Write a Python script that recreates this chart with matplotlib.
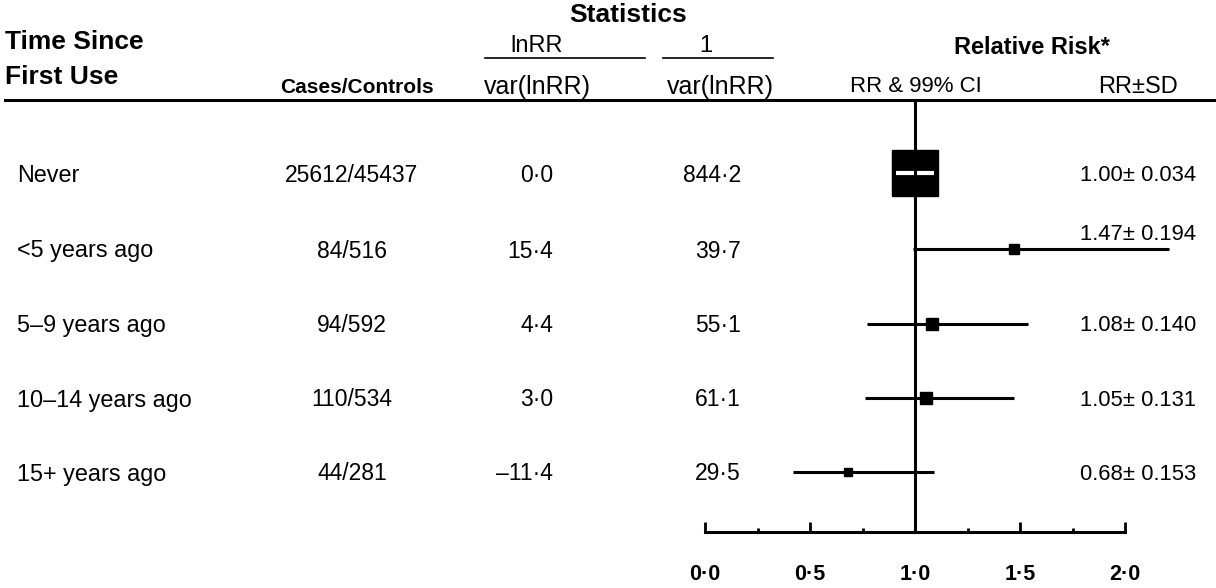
import numpy as np
import matplotlib
matplotlib.use('Agg')
import matplotlib.pyplot as plt
from matplotlib.ticker import MultipleLocator, FixedFormatter, FixedLocator

plt.rcParams['font.family'] = ['Liberation Sans', 'DejaVu Sans']

# data
groups = ['Never', '<5 years ago', '5–9 years ago', '10–14 years ago', '15+ years ago']
cases_controls = ['25612/45437', '84/516', '94/592', '110/534', '44/281']
lnrr_over_var = ['0·0', '15·4', '4·4', '3·0', '–11·4']
inv_var = [844.2, 39.7, 55.1, 61.1, 29.5]
rr = [1.00, 1.47, 1.08, 1.05, 0.68]
sd = [0.034, 0.194, 0.140, 0.131, 0.153]
ci_low = [0.91, 0.99, 0.77, 0.76, 0.42]
ci_high = [1.09, 2.21, 1.54, 1.47, 1.09]
tick_values = [0.0, 0.5, 1.0, 1.5, 2.0]
tick_labels = ['0·0', '0·5', '1·0', '1·5', '2·0']

W, H = 1216, 588
fig = plt.figure(figsize=(W / 100, H / 100), dpi=100)

def px(x, y):
    # pixel position (from top-left) -> figure fraction
    return x / W, 1 - y / H

def ftext(x, y, s, **kw):
    fx, fy = px(x, y)
    fig.text(fx, fy, s, **kw)

row_y = [173, 249, 324, 398, 472]   # pixel rows (from top)

# forest panel: RR 0..2 spans x 705..1125 px, y in pixel units
left, right, top, bottom = 705, 1125, 100, 532
ax = fig.add_axes([left / W, 1 - bottom / H, (right - left) / W, (bottom - top) / H])
ax.set_xlim(0, 2)
ax.set_ylim(bottom, top)
for s in ['top', 'left', 'right']:
    ax.spines[s].set_visible(False)
ax.spines['bottom'].set_linewidth(2.2)
ax.yaxis.set_visible(False)
ax.xaxis.set_major_locator(FixedLocator(tick_values))
ax.xaxis.set_major_formatter(FixedFormatter(tick_labels))
ax.xaxis.set_minor_locator(MultipleLocator(0.25))
ax.tick_params(axis='x', which='major', direction='in', length=7, width=2, pad=23,
               labelsize=15.5)
ax.tick_params(axis='x', which='minor', direction='in', length=3, width=2)
for lab in ax.get_xticklabels():
    lab.set_fontweight('bold')
ax.patch.set_visible(False)

# CI lines and weight boxes
max_w = max(inv_var)
for i in range(len(groups)):
    side_px = 46 * np.sqrt(inv_var[i] / max_w)
    ax.plot(rr[i], row_y[i], marker='s', color='black', markersize=side_px * 0.72,
            zorder=3, clip_on=False)
    if i == 0:
        ax.plot([ci_low[i], ci_high[i]], [row_y[i], row_y[i]], color='white', lw=3,
                solid_capstyle='butt', zorder=4, clip_on=False)
    else:
        ax.plot([ci_low[i], ci_high[i]], [row_y[i], row_y[i]], color='black', lw=2.2,
                solid_capstyle='butt', zorder=2, clip_on=False)
ax.axvline(1.0, color='black', lw=2.2, zorder=5)

# header
fig.add_artist(plt.Line2D([5 / W, 1], [1 - 100 / H] * 2, color='black', lw=2.2))
hb = dict(fontsize=19, fontweight='bold')
ftext(628, 15, 'Statistics', ha='center', va='center', **hb)
ftext(5, 42, 'Time Since', ha='left', va='center', **hb)
ftext(5, 77, 'First Use', ha='left', va='center', **hb)
ftext(1032, 47, 'Relative Risk*', ha='center', va='center', fontsize=17, fontweight='bold')
ftext(357, 88, 'Cases/Controls', ha='center', va='center', fontsize=15, fontweight='bold')
ftext(537, 46, 'lnRR', ha='center', va='center', fontsize=17)
ftext(706, 46, '1', ha='center', va='center', fontsize=17)
fig.add_artist(plt.Line2D([485 / W, 645 / W], [1 - 58 / H] * 2, color='black', lw=1.2))
fig.add_artist(plt.Line2D([663 / W, 773 / W], [1 - 58 / H] * 2, color='black', lw=1.2))
ftext(537, 87, 'var(lnRR)', ha='center', va='center', fontsize=18)
ftext(720, 87, 'var(lnRR)', ha='center', va='center', fontsize=18)
ftext(916, 87, 'RR & 99% CI', ha='center', va='center', fontsize=16)
ftext(1138, 87, 'RR±SD', ha='center', va='center', fontsize=17)

# table rows
for i in range(len(groups)):
    y = row_y[i] + 2
    ftext(17, y, groups[i], ha='left', va='center', fontsize=16.8)
    ftext(352, y, cases_controls[i], ha='center', va='center', fontsize=16.5)
    ftext(553, y, lnrr_over_var[i], ha='right', va='center', fontsize=16.5)
    ftext(741, y, f'{inv_var[i]:.1f}'.replace('.', '·'), ha='right', va='center', fontsize=16.5)
    ty = y - 16 if i == 1 else y
    ftext(1080, ty, f'{rr[i]:.2f}± {sd[i]:.3f}', ha='left', va='center', fontsize=15.8)

fig.savefig('out.png', dpi=100)
